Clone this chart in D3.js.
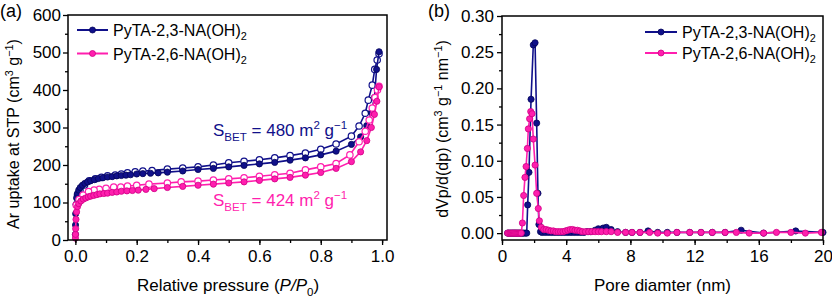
<!DOCTYPE html>
<html lang="en">
<head>
<meta charset="UTF-8">
<title>Ar isotherms and pore size distribution</title>
<script src="https://d3js.org/d3.v7.min.js"></script>
<style>
  body { margin: 0; background: #fff; }
  svg { display: block; font-family: 'Liberation Sans', Arial, sans-serif; }
</style>
</head>
<body>
<svg id="chart" width="832" height="297"></svg>
<script>
// ---- panel (a): Ar isotherms (adsorption = filled, desorption = open) ----
const adsP23 = [0.0002,0.0005,0.001,0.002,0.004,0.007,0.011,0.016,0.023,0.031,0.04,0.05,0.062,0.075,0.09,0.105,0.12,0.135,0.15,0.165,0.18,0.2,0.22,0.245,0.27,0.3,0.35,0.4,0.45,0.5,0.55,0.6,0.65,0.7,0.75,0.8,0.85,0.9,0.93,0.95,0.965,0.975,0.982,0.99];
const adsV23 = [15,40,70,95,112,124,133,140,146,151,155,158,161,164,166,168,169,171,172,173,174,176,177,178,179,181,184,188,191,195,199,203,207,213,219,227,237,255,275,305,340,380,455,502];
const desP23 = [0.99,0.984,0.976,0.968,0.955,0.945,0.925,0.9,0.85,0.8,0.75,0.7,0.65,0.6,0.55,0.5,0.45,0.4,0.35,0.3,0.25,0.22,0.195,0.17,0.15,0.13,0.105,0.085,0.065,0.045,0.03,0.015,0.007];
const desV23 = [497,480,455,413,373,338,304,277,256,242,232,225,219,214,210,206,200,195,192,189,185,184,182,179,176,173,171,167,163,158,147,133,120];

const adsP26 = [0.0002,0.0005,0.001,0.002,0.004,0.007,0.011,0.018,0.026,0.034,0.042,0.05,0.06,0.07,0.08,0.093,0.105,0.12,0.135,0.15,0.168,0.186,0.205,0.23,0.257,0.3,0.35,0.4,0.45,0.5,0.55,0.6,0.65,0.7,0.75,0.8,0.85,0.9,0.93,0.95,0.965,0.975,0.983,0.99];
const adsV26 = [5,15,30,55,75,89,97,104,109,112,115,117,119,121,123,124,125,127,128,130,131,132,133,135,137,140,143,146,149,152,155,159,163,167,173,180,191,209,235,265,300,335,370,408];
const desP26 = [0.99,0.985,0.977,0.968,0.958,0.945,0.925,0.895,0.85,0.8,0.75,0.7,0.65,0.6,0.55,0.5,0.45,0.4,0.345,0.3,0.24,0.2,0.17,0.148,0.125,0.1,0.078,0.061,0.043,0.025,0.012,0.003];
const desV26 = [410,400,380,352,320,290,262,227,204,195,187,178,174,170,166,163,160,157,155,152,149,146,144,141,141,138,135,133,129,120,108,93];

const isoYTicks = [0, 100, 200, 300, 400, 500, 600];
const isoXTicks = [0, 0.2, 0.4, 0.6, 0.8, 1.0];

// ---- panel (b): pore size distribution ----
const poreD23 = [0.35,0.42,0.5,0.57,0.64,0.71,0.78,0.85,0.92,0.99,1.06,1.13,1.2,1.27,1.35,1.45,1.54,1.6,1.68,1.81,1.95,2.06,2.16,2.24,2.3,2.4,2.5,2.7,2.9,3.1,3.3,3.5,3.7,3.9,4.1,4.3,4.5,4.7,4.9,5.1,5.3,5.5,5.8,6.0,6.3,6.5,6.8,7.2,7.7,8.1,8.6,9.1,9.7,10.3,10.9,11.7,12.4,13.1,13.9,14.9,16.3,18.3,20];
const poreV23 = [0,0,0,0,0,0,0,0,0,0,0,0,0,0,0,0,0,0.039,0.084,0.185,0.26,0.263,0.152,0.055,0.012,0.002,0.001,0.001,0.001,0.001,0.001,0.001,0.001,0.001,0.001,0.001,0.001,0.001,0.001,0.001,0.002,0.002,0.004,0.006,0.007,0.008,0.005,0.002,0.001,0.001,0.001,0.003,0.001,0.001,0.001,0.001,0.001,0.001,0.001,0.004,0,0.003,0.001];
const poreD26 = [0.35,0.42,0.5,0.57,0.64,0.71,0.78,0.85,0.92,0.99,1.06,1.13,1.2,1.27,1.35,1.43,1.5,1.58,1.64,1.72,1.79,1.87,1.95,2.06,2.16,2.26,2.33,2.45,2.6,2.75,2.9,3.05,3.2,3.35,3.5,3.65,3.8,3.95,4.1,4.25,4.4,4.55,4.7,4.85,5.0,5.2,5.4,5.6,5.8,6.0,6.2,6.5,6.8,7.2,7.7,8.1,8.6,9.2,9.7,10.3,10.9,11.7,12.4,13.1,13.9,14.6,15.4,16.3,17.1,18.0,18.9,19.9];
const poreV26 = [0,0,0,0,0,0,0,0,0,0,0,0,0,0.014,0.052,0.077,0.092,0.117,0.144,0.158,0.168,0.165,0.13,0.094,0.055,0.034,0.017,0.008,0.005,0.005,0.004,0.003,0.003,0.002,0.002,0.002,0.002,0.003,0.004,0.005,0.005,0.004,0.004,0.003,0.002,0.002,0.002,0.002,0.002,0.002,0.002,0.002,0.002,0.001,0.001,0.001,0.001,0.001,0,0,0.001,0.001,0.001,0.001,0.001,0.001,0,0,0.001,0.001,0,0.001];

const psdYTicks = [0, 0.05, 0.10, 0.15, 0.20, 0.25, 0.30];
const psdXTicks = [0, 4, 8, 12, 16, 20];

const seriesNames = ['PyTA-2,3-NA(OH)', 'PyTA-2,6-NA(OH)'];
const colors = ['#10108a', '#ff1fae'];
const darker = ['#05055a', '#d10085'];

const svg = d3.select('#chart');
const fs = 17;

// text with sub/superscripts
function rich(sel, parts, size) {
    let shift = 0;
    parts.forEach(([t, kind]) => {
        const target = kind === 'sup' ? -0.4 * size : kind === 'sub' ? 0.28 * size : 0;
        const ts = sel.append('tspan').text(t).attr('dy', target - shift);
        shift = target;
        if (kind === 'sup' || kind === 'sub') ts.attr('font-size', size * 0.68);
        if (kind === 'it') ts.attr('font-style', 'italic');
    });
}

function frame(g, x, y) {
    g.append('rect')
        .attr('x', x.range()[0]).attr('y', y.range()[1])
        .attr('width', x.range()[1] - x.range()[0])
        .attr('height', y.range()[0] - y.range()[1])
        .attr('fill', 'none').attr('stroke', '#000').attr('stroke-width', 1.5);
}

function axes(g, x, y, xt, yt, xMinor, yMinor, xFmt, yFmt, yPad) {
    const y0 = y.range()[0], x0 = x.range()[0];
    const ax = g.append('g').attr('transform', `translate(0,${y0})`)
        .call(d3.axisBottom(x).tickValues(xt).tickFormat(xFmt).tickSize(5).tickPadding(5).tickSizeOuter(0));
    const axm = g.append('g').attr('transform', `translate(0,${y0})`)
        .call(d3.axisBottom(x).tickValues(xMinor).tickFormat('').tickSize(3).tickSizeOuter(0));
    const ay = g.append('g').attr('transform', `translate(${x0},0)`)
        .call(d3.axisLeft(y).tickValues(yt).tickFormat(yFmt).tickSize(5).tickPadding(yPad).tickSizeOuter(0));
    const aym = g.append('g').attr('transform', `translate(${x0},0)`)
        .call(d3.axisLeft(y).tickValues(yMinor).tickFormat('').tickSize(3).tickSizeOuter(0));
    [ax, axm, ay, aym].forEach(a => {
        a.select('.domain').remove();
        a.selectAll('line').attr('stroke', '#000').attr('stroke-width', 1.3);
        a.selectAll('text').attr('font-size', fs).attr('fill', '#000')
            .attr('font-family', "'Liberation Sans', Arial, sans-serif");
    });
}

// ================= panel (a) =================
const xA = d3.scaleLinear().domain([-0.024, 1.016]).range([68, 387]);
const yA = d3.scaleLinear().domain([0, 600]).range([240, 15]);
const gA = svg.append('g');

const isoSeries = [
    { p: desP23, v: desV23, c: 0, open: true },
    { p: adsP23, v: adsV23, c: 0, open: false },
    { p: desP26, v: desV26, c: 1, open: true },
    { p: adsP26, v: adsV26, c: 1, open: false }
];
const lineA = d3.line().x(d => xA(d[0])).y(d => yA(d[1]));
isoSeries.forEach(s => {
    const pts = s.p.map((p, i) => [p, s.v[i]]);
    gA.append('path').datum(pts).attr('d', lineA)
        .attr('fill', 'none').attr('stroke', colors[s.c]).attr('stroke-width', 1.6);
    gA.selectAll(null).data(pts).enter().append('circle')
        .attr('cx', d => xA(d[0])).attr('cy', d => yA(d[1]))
        .attr('r', s.open ? 3.2 : 3.1)
        .attr('fill', s.open ? '#fff' : colors[s.c])
        .attr('stroke', s.open ? colors[s.c] : darker[s.c])
        .attr('stroke-width', s.open ? 1.2 : 0.8);
});

axes(gA, xA, yA, isoXTicks, isoYTicks,
    d3.range(0, 1.01, 0.1), d3.range(50, 600, 100),
    d3.format('.1f'), d3.format('d'), 2);
frame(gA, xA, yA);

// legend (a)
seriesNames.forEach((n, i) => {
    const ly = 30 + i * 23.5;
    gA.append('line').attr('x1', 77).attr('x2', 108).attr('y1', ly).attr('y2', ly)
        .attr('stroke', colors[i]).attr('stroke-width', 2);
    gA.append('circle').attr('cx', 92.5).attr('cy', ly).attr('r', 3)
        .attr('fill', colors[i]).attr('stroke', darker[i]).attr('stroke-width', 0.8);
    const t = gA.append('text').attr('x', 113).attr('y', ly + 6).attr('font-size', 16);
    rich(t, [[n, ''], ['2', 'sub']], 16);
});

// BET labels
const tb1 = gA.append('text').attr('x', 213).attr('y', 136).attr('font-size', fs).attr('fill', colors[0]);
rich(tb1, [['S', ''], ['BET', 'sub'], [' = 480 m', ''], ['2', 'sup'], [' g', ''], ['\u22121', 'sup']], fs);
const tb2 = gA.append('text').attr('x', 213).attr('y', 206).attr('font-size', fs).attr('fill', colors[1]);
rich(tb2, [['S', ''], ['BET', 'sub'], [' = 424 m', ''], ['2', 'sup'], [' g', ''], ['\u22121', 'sup']], fs);

// axis titles (a)
const ytSize = 16;
const xtA = gA.append('text').attr('x', 228).attr('y', 291).attr('text-anchor', 'middle').attr('font-size', fs);
rich(xtA, [['Relative pressure (', ''], ['P', 'it'], ['/', 'it'], ['P', 'it'], ['0', 'sub'], [')', '']], fs);
const ytA = gA.append('text').attr('transform', 'translate(19,134) rotate(-90)')
    .attr('text-anchor', 'middle').attr('font-size', ytSize);
rich(ytA, [['Ar uptake at STP (cm', ''], ['3', 'sup'], [' g', ''], ['\u22121', 'sup'], [')', '']], ytSize);
gA.append('text').attr('x', 0).attr('y', 17).attr('font-size', 18).text('(a)');

// ================= panel (b) =================
const xB = d3.scaleLinear().domain([0, 20]).range([502, 823]);
const yB = d3.scaleLinear().domain([-0.0095, 0.30]).range([240, 16]);
const gB = svg.append('g');

const psdSeries = [
    { d: poreD23, v: poreV23, c: 0 },
    { d: poreD26, v: poreV26, c: 1 }
];
const lineB = d3.line().x(d => xB(d[0])).y(d => yB(d[1]));
psdSeries.forEach(s => {
    const pts = s.d.map((d, i) => [d, s.v[i]]);
    gB.append('path').datum(pts).attr('d', lineB)
        .attr('fill', 'none').attr('stroke', colors[s.c]).attr('stroke-width', 1.6);
    gB.selectAll(null).data(pts).enter().append('circle')
        .attr('cx', d => xB(d[0])).attr('cy', d => yB(d[1])).attr('r', 3.1)
        .attr('fill', colors[s.c]).attr('stroke', darker[s.c]).attr('stroke-width', 0.8);
});

axes(gB, xB, yB, psdXTicks, psdYTicks,
    d3.range(0, 20.1, 2), d3.range(0.025, 0.3, 0.05),
    d3.format('d'), d3.format('.2f'), 3);
frame(gB, xB, yB);

// legend (b)
seriesNames.forEach((n, i) => {
    const ly = 32 + i * 21;
    gB.append('line').attr('x1', 645).attr('x2', 677).attr('y1', ly).attr('y2', ly)
        .attr('stroke', colors[i]).attr('stroke-width', 2);
    gB.append('circle').attr('cx', 661).attr('cy', ly).attr('r', 3)
        .attr('fill', colors[i]).attr('stroke', darker[i]).attr('stroke-width', 0.8);
    const t = gB.append('text').attr('x', 682).attr('y', ly + 6).attr('font-size', 16);
    rich(t, [[n, ''], ['2', 'sub']], 16);
});

// axis titles (b)
gB.append('text').attr('x', (xB.range()[0] + xB.range()[1]) / 2).attr('y', 291)
    .attr('text-anchor', 'middle').attr('font-size', fs).text('Pore diamter (nm)');
const ytB = gB.append('text').attr('transform', 'translate(448,129) rotate(-90)')
    .attr('text-anchor', 'middle').attr('font-size', ytSize);
rich(ytB, [['dVp/d(dp) (cm', ''], ['3', 'sup'], [' g', ''], ['\u22121', 'sup'], [' nm', ''], ['\u22121', 'sup'], [')', '']], ytSize);
gB.append('text').attr('x', 428).attr('y', 17).attr('font-size', 18).text('(b)');
</script>
</body>
</html>
